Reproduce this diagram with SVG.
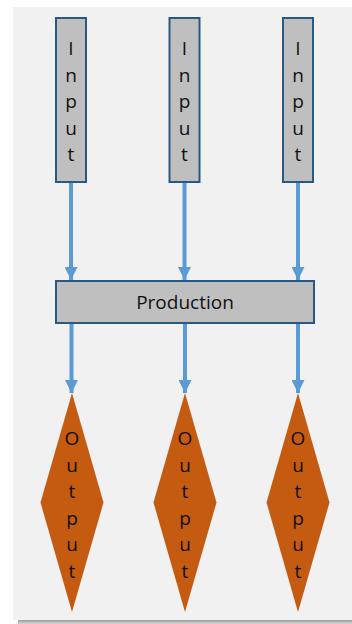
<svg xmlns="http://www.w3.org/2000/svg" width="352" height="624" viewBox="0 0 352 624">
  <defs>
    <linearGradient id="shadow" x1="0" y1="0" x2="0" y2="1">
      <stop offset="0" stop-color="#9a9a9a"/>
      <stop offset="1" stop-color="#d8d8d8"/>
    </linearGradient>
    <marker id="head" viewBox="0 0 13 13" markerWidth="13" markerHeight="13" refX="13" refY="6.5" orient="auto" markerUnits="userSpaceOnUse">
      <path d="M0,0 L13,6.5 L0,13 z" fill="#5b9bd5"/>
    </marker>
  </defs>
  <style>
    .box { fill: #bfbfbf; stroke: #2a5885; stroke-width: 2; }
    .out { fill: #c55a11; }
    .lbl { font-family: "Open Sans", "Liberation Sans", Arial, sans-serif; font-size: 19px; fill: #111; text-anchor: middle; }
    .flow { stroke: #5b9bd5; stroke-width: 4; fill: none; marker-end: url(#head); }
  </style>

  <!-- backdrop panel -->
  <rect x="0" y="0" width="352" height="624" fill="#ffffff"/>
  <rect x="18" y="620" width="334" height="4" fill="url(#shadow)"/>
  <rect x="13" y="7" width="339" height="613" fill="#f1f1f1"/>

  <g id="connectors">
    <line class="flow" x1="71" y1="183" x2="71" y2="280"/>
    <line class="flow" x1="184.5" y1="183" x2="184.5" y2="280"/>
    <line class="flow" x1="298" y1="183" x2="298" y2="280"/>
    <line class="flow" x1="71.5" y1="323" x2="71.5" y2="393"/>
    <line class="flow" x1="185" y1="323" x2="185" y2="393"/>
    <line class="flow" x1="298" y1="323" x2="298" y2="393"/>
  </g>

  <g id="input1">
    <rect class="box" x="56" y="18" width="30" height="164"/>
    <text class="lbl" x="71" y="55">I<tspan x="71" dy="26.5">n</tspan><tspan x="71" dy="26.5">p</tspan><tspan x="71" dy="26.5">u</tspan><tspan x="71" dy="26.5">t</tspan></text>
  </g>
  <g id="input2">
    <rect class="box" x="169.5" y="18" width="30" height="164"/>
    <text class="lbl" x="184.5" y="55">I<tspan x="184.5" dy="26.5">n</tspan><tspan x="184.5" dy="26.5">p</tspan><tspan x="184.5" dy="26.5">u</tspan><tspan x="184.5" dy="26.5">t</tspan></text>
  </g>
  <g id="input3">
    <rect class="box" x="283" y="18" width="30" height="164"/>
    <text class="lbl" x="298" y="55">I<tspan x="298" dy="26.5">n</tspan><tspan x="298" dy="26.5">p</tspan><tspan x="298" dy="26.5">u</tspan><tspan x="298" dy="26.5">t</tspan></text>
  </g>

  <g id="production">
    <rect class="box" x="56" y="281" width="258" height="42"/>
    <text class="lbl" x="185" y="309">Production</text>
  </g>

  <g id="output1">
    <polygon class="out" points="72,393 103.5,502.5 72,612 40.5,502.5"/>
    <text class="lbl" x="72" y="445">O<tspan x="72" dy="26.6">u</tspan><tspan x="72" dy="26.6">t</tspan><tspan x="72" dy="26.6">p</tspan><tspan x="72" dy="26.6">u</tspan><tspan x="72" dy="26.6">t</tspan></text>
  </g>
  <g id="output2">
    <polygon class="out" points="185,393 216.5,502.5 185,612 153.5,502.5"/>
    <text class="lbl" x="185" y="445">O<tspan x="185" dy="26.6">u</tspan><tspan x="185" dy="26.6">t</tspan><tspan x="185" dy="26.6">p</tspan><tspan x="185" dy="26.6">u</tspan><tspan x="185" dy="26.6">t</tspan></text>
  </g>
  <g id="output3">
    <polygon class="out" points="298,393 329.5,502.5 298,612 266.5,502.5"/>
    <text class="lbl" x="298" y="445">O<tspan x="298" dy="26.6">u</tspan><tspan x="298" dy="26.6">t</tspan><tspan x="298" dy="26.6">p</tspan><tspan x="298" dy="26.6">u</tspan><tspan x="298" dy="26.6">t</tspan></text>
  </g>
</svg>
